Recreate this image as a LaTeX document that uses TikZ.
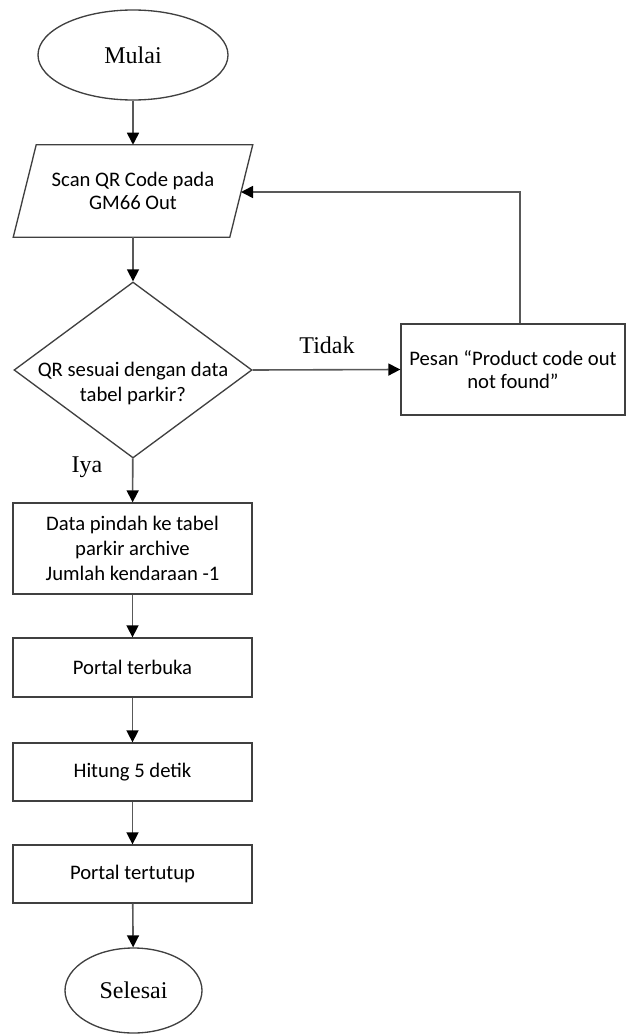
\documentclass[tikz,border=0pt]{standalone}
\usepackage{fontspec}
\setmainfont{Liberation Serif}
\newfontfamily\boxfont{Carlito}
\usetikzlibrary{shapes.geometric,arrows.meta}
\begin{document}
\begin{tikzpicture}[x=0.75pt,y=-0.75pt,
  term/.style={draw=black!75,line width=1pt,ellipse,inner sep=0pt,font=\fontsize{18}{20}\selectfont},
  proc/.style={draw=black!75,line width=1pt,rectangle,inner sep=0pt,minimum width=179.25pt,align=center,font=\boxfont\fontsize{15.5}{17.25}\selectfont},
  io/.style={rectangle,inner sep=0pt,minimum width=179.25pt,minimum height=69pt,align=center,font=\boxfont\fontsize{15.5}{17.25}\selectfont},
  shapeline/.style={draw=black!75,line width=1pt},
  dec/.style={draw=black!75,line width=1pt,diamond,aspect=1.35,inner sep=0pt,minimum width=178.5pt,minimum height=132pt},
  dectext/.style={inner sep=0pt,align=center,font=\boxfont\fontsize{15.5}{18.75}\selectfont},
  lbl/.style={inner sep=0pt,font=\fontsize{18}{20}\selectfont},
  flow/.style={draw=black!65,line width=1.2pt,-{Triangle[length=9pt,width=9pt,color=black]}}
]
\useasboundingbox (0,0) rectangle (630,1035);
\node[term,minimum width=142.5pt,minimum height=67.5pt] (mulai) at (133,55) {Mulai};
\node[io] (scan) at (133,191) {Scan QR Code pada\\GM66 Out};
\draw[shapeline] (scan.south west) -- ([xshift=17.25pt]scan.north west) -- (scan.north east) -- ([xshift=-17.25pt]scan.south east) -- cycle;
\coordinate (scanR) at (241,192);
\node[dec] (qr) at (133,370) {};
\node[dectext] (qrtext) at (133,383) {QR sesuai dengan data\\tabel parkir?};
\node[proc,minimum width=168pt,minimum height=68.25pt] (pesan) at (513,369.5) {Pesan “Product code out\\not found”};
\node[lbl] (tidak) at (327,345) {Tidak};
\node[lbl] (iya) at (87,467) {Iya};
\node[proc,minimum height=68.25pt,font=\boxfont\fontsize{15.5}{18.75}\selectfont] (data) at (132.5,548.5) {Data pindah ke tabel\\parkir archive\\Jumlah kendaraan -1};
\node[proc,minimum height=44.25pt] (buka) at (132.5,667.5) {Portal terbuka};
\node[proc,minimum height=43.5pt] (hitung) at (132.5,772) {Hitung 5 detik};
\node[proc,minimum height=43.5pt] (tutup) at (132.5,874) {Portal tertutup};
\node[term,minimum width=102.75pt,minimum height=63.75pt] (selesai) at (133.5,990.5) {Selesai};
\draw[flow] (mulai) -- (scan);
\draw[flow] (scan) -- (qr);
\draw[flow] (qr.east) -- (pesan.west);
\draw[flow] ([xshift=5.25pt]pesan.north) |- (scanR);
\draw[flow] (qr) -- (data);
\draw[flow] (data) -- (buka);
\draw[flow] (buka) -- (hitung);
\draw[flow] (hitung) -- (tutup);
\draw[flow] (tutup) -- (selesai);
\end{tikzpicture}
\end{document}
